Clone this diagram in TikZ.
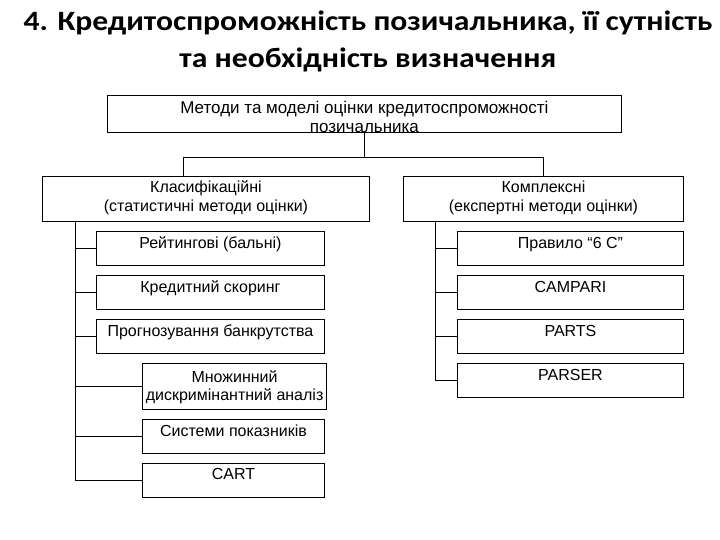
\documentclass[tikz,border=0pt]{standalone}
\usepackage{fontspec}
\setmainfont{Liberation Sans}
\newfontfamily\titlefont{Carlito}
\usetikzlibrary{positioning,calc}
\tikzset{
  link/.style={line width=0.9pt},
  headbox/.style={draw, line width=0.9pt, align=center, inner ysep=0pt,
    font=\fontsize{17}{19}\selectfont, text height=37pt, text depth=-5pt},
  groupbox/.style={draw, line width=0.9pt, align=center, inner ysep=0pt,
    font=\fontsize{16}{19}\selectfont, text height=35pt, text depth=10pt},
  itembox/.style={draw, line width=0.9pt, align=center, inner ysep=0pt,
    font=\fontsize{16}{18}\selectfont, text height=17pt, text depth=17pt},
  titletext/.style={align=center, font=\titlefont\bfseries\fontsize{28}{37}\selectfont}
}

\begin{document}
\begin{tikzpicture}[x=1pt, y=-1pt]
\useasboundingbox (0,0) rectangle (720,540);
\node[titletext, anchor=base, xscale=1.13, transform shape] (title) at (368,68) {4. Кредитоспроможність позичальника, її сутність\\та необхідність визначення};

\node[headbox, anchor=north west, minimum width=514pt] (top) at (107,95) {Методи та моделі оцінки кредитоспроможності\\позичальника};

\node[groupbox, anchor=north west, minimum width=327pt] (cls) at (42,176) {Класифікаційні\\(статистичні методи оцінки)};
\node[groupbox, anchor=north west, minimum width=280pt] (cmp) at (403,176) {Комплексні\\(експертні методи оцінки)};

% classification methods
\node[itembox, anchor=north west, minimum width=228pt] (rat) at (96,231) {Рейтингові (бальні)};
\node[itembox, below right=9pt and 0pt of rat.south west, minimum width=228pt] (scor) {Кредитний скоринг};
\node[itembox, below right=9pt and 0pt of scor.south west, minimum width=228pt] (bank) {Прогнозування банкрутства};
\node[itembox, below right=9pt and 46pt of bank.south west, minimum width=182pt,
  text height=37pt, text depth=9pt] (mda) {Множинний\\дискримінантний аналіз};
\node[itembox, below right=9pt and 0pt of mda.south west, minimum width=182pt] (sys) {Системи показників};
\node[itembox, below right=9pt and 0pt of sys.south west, minimum width=182pt] (cart) {CART};

% complex methods
\node[itembox, anchor=north west, minimum width=226pt] (rule) at (457,231) {Правило “6 С”};
\node[itembox, below right=9pt and 0pt of rule.south west, minimum width=226pt] (campari) {CAMPARI};
\node[itembox, below right=9pt and 0pt of campari.south west, minimum width=226pt] (parts) {PARTS};
\node[itembox, below right=9pt and 0pt of parts.south west, minimum width=226pt] (parser) {PARSER};

\coordinate (fork) at ($(top.south)+(0,25)$);
\coordinate (clsin) at ([xshift=141pt]cls.north west);
\coordinate (spineL) at ([xshift=33pt]cls.south west);
\coordinate (spineR) at ([xshift=32pt]cmp.south west);

\draw[link] (top.south) -- (fork);
\draw[link] (fork) -| (clsin);
\draw[link] (fork) -| (cmp.north);
\foreach \c in {rat,scor,bank,mda,sys,cart}
  \draw[link] (spineL) |- (\c.west);
\foreach \c in {rule,campari,parts,parser}
  \draw[link] (spineR) |- (\c.west);
\end{tikzpicture}
\end{document}
